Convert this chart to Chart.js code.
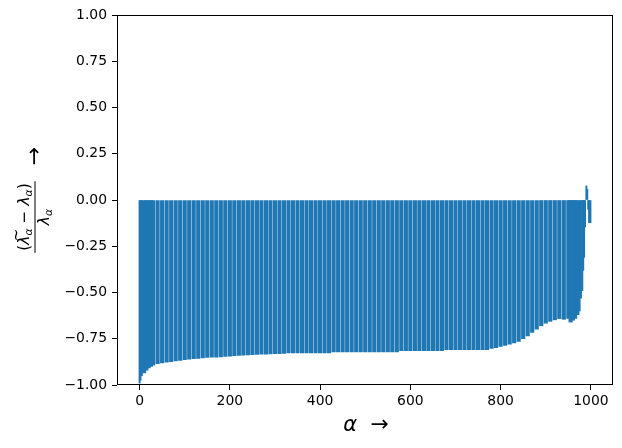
<!DOCTYPE html>
<html>
<head>
<meta charset="utf-8">
<script src="https://cdn.jsdelivr.net/npm/chart.js@4"></script>
<style>
  html, body { margin: 0; padding: 0; background: #fff; }
  #wrap { width: 622px; height: 448px; }
</style>
</head>
<body>
<div id="wrap"><canvas id="chart" width="622" height="448"></canvas></div>
<script>
// alpha index of each bar
const alphaIndex = [
  0, 2, 5, 10, 15, 20, 25, 30, 40, 50, 60, 70, 80, 90,
  100, 110, 120, 130, 140, 150, 160, 170, 180, 190,
  200, 210, 220, 230, 240, 250, 260, 270, 280, 290,
  300, 310, 320, 330, 340, 350, 360, 370, 380, 390,
  400, 410, 420, 430, 440, 450, 460, 470, 480, 490,
  500, 510, 520, 530, 540, 550, 560, 570, 580, 590,
  600, 610, 620, 630, 640, 650, 660, 670, 680, 690,
  700, 710, 720, 730, 740, 750, 760, 770, 780, 790,
  800, 810, 820, 830, 840, 850, 860, 870, 880, 890,
  900, 910, 920, 930, 940, 950, 955, 960, 965, 970,
  975, 978, 981, 983, 985, 987, 990, 992, 994, 996, 999
];
// (lambda~ - lambda) / lambda for each bar
const relChange = [
  -0.990, -0.975, -0.950, -0.935, -0.920, -0.908, -0.900, -0.893, -0.885, -0.880, -0.877, -0.874, -0.870, -0.867,
  -0.863, -0.861, -0.858, -0.856, -0.853, -0.851, -0.850, -0.849, -0.848, -0.846,
  -0.844, -0.842, -0.840, -0.839, -0.837, -0.836, -0.835, -0.834, -0.833, -0.832,
  -0.831, -0.830, -0.829, -0.826, -0.826, -0.826, -0.826, -0.826, -0.826, -0.826,
  -0.826, -0.826, -0.826, -0.821, -0.821, -0.821, -0.821, -0.821, -0.821, -0.821,
  -0.821, -0.821, -0.821, -0.821, -0.821, -0.821, -0.821, -0.821, -0.815, -0.815,
  -0.815, -0.815, -0.815, -0.815, -0.815, -0.815, -0.815, -0.815, -0.809, -0.809,
  -0.809, -0.809, -0.809, -0.809, -0.809, -0.809, -0.809, -0.809, -0.802, -0.798,
  -0.792, -0.786, -0.779, -0.772, -0.764, -0.750, -0.735, -0.716, -0.698, -0.680,
  -0.666, -0.656, -0.648, -0.641, -0.645, -0.640, -0.660, -0.650, -0.640, -0.620,
  -0.600, -0.530, -0.490, -0.380, -0.310, -0.145, 0.076, 0.058, -0.050, -0.123, -0.123
];
const xTicks = [0, 200, 400, 600, 800, 1000];
const yTicks = [-1, -0.75, -0.5, -0.25, 0, 0.25, 0.5, 0.75, 1];

const FONT = '"DejaVu Sans", sans-serif';
const points = alphaIndex.map((a, i) => ({ x: a, y: relChange[i] }));
// the closely spaced bars at both ends are drawn thinner
const isDense = p => p.x < 10 || p.x >= 975;

// draws piece list [text, font, dy, tilde] centred on 0 along current x
function drawRun(ctx, pieces, baseline) {
  let total = 0;
  pieces.forEach(p => { ctx.font = p[1]; p.w = ctx.measureText(p[0]).width; total += p.w; });
  let x = -total / 2;
  pieces.forEach(p => {
    ctx.font = p[1];
    ctx.fillText(p[0], x, baseline + (p[2] || 0));
    if (p[3]) {
      // tilde accent above the glyph
      ctx.fillText('~', x + p.w * 0.35, baseline - 8);
    }
    x += p.w;
  });
  return total;
}

const labelPlugin = {
  id: 'labels',
  afterDraw(chart) {
    const ctx = chart.ctx;
    const a = chart.chartArea;
    ctx.save();
    // frame
    ctx.strokeStyle = '#000';
    ctx.lineWidth = 1;
    ctx.strokeRect(Math.round(a.left) + 0.5, Math.round(a.top) + 0.5,
      Math.round(a.right - a.left) - 1, Math.round(a.bottom - a.top) - 1);

    ctx.fillStyle = '#000';
    ctx.textBaseline = 'alphabetic';
    ctx.textAlign = 'left';

    // x label
    ctx.save();
    ctx.translate(366, 0);
    drawRun(ctx, [
      ['α', 'italic 21px ' + FONT],
      ['  ', '21px ' + FONT],
      ['→', '22px ' + FONT]
    ], 431);
    ctx.restore();

    // y label (rotated fraction + arrow)
    const big = 15.5, small = 10.9;
    ctx.save();
    ctx.translate(35, 217);
    ctx.rotate(-Math.PI / 2);
    const numW = drawRun(ctx, [
      ['(', big + 'px ' + FONT],
      ['λ', 'italic ' + big + 'px ' + FONT, 0, true],
      ['α', 'italic ' + small + 'px ' + FONT, 3],
      [' − ', big + 'px ' + FONT],
      ['λ', 'italic ' + big + 'px ' + FONT],
      ['α', 'italic ' + small + 'px ' + FONT, 3],
      [')', big + 'px ' + FONT]
    ], -6);
    drawRun(ctx, [
      ['λ', 'italic ' + big + 'px ' + FONT],
      ['α', 'italic ' + small + 'px ' + FONT, 3]
    ], 14);
    ctx.fillRect(-numW / 2 - 2, -0.5, numW + 4, 1);
    ctx.translate(61, 0);
    drawRun(ctx, [['→', '22px ' + FONT]], 6);
    ctx.restore();

    ctx.restore();
  }
};

const ctx = document.getElementById('chart').getContext('2d');
const myChart = new Chart(ctx, {
  type: 'bar',
  data: {
    datasets: [{
      data: points.filter(p => !isDense(p)),
      backgroundColor: '#1f77b4',
      borderWidth: 0,
      barThickness: 3.5,
      grouped: false
    }, {
      data: points.filter(isDense),
      backgroundColor: '#1f77b4',
      borderWidth: 0,
      barThickness: 1.3,
      grouped: false
    }]
  },
  options: {
    responsive: false,
    animation: false,
    devicePixelRatio: 1,
    layout: { padding: { left: 0, right: 9, top: 15, bottom: 0 } },
    plugins: { legend: { display: false }, tooltip: { enabled: false } },
    scales: {
      x: {
        type: 'linear',
        offset: false,
        min: -50,
        max: 1049,
        afterBuildTicks: s => { s.ticks = xTicks.map(v => ({ value: v })); },
        afterFit: s => { s.height = 63; },
        grid: { offset: false, drawOnChartArea: false, drawTicks: true, tickLength: 5, tickColor: '#000', color: '#000' },
        border: { display: false },
        ticks: { color: '#000', font: { family: FONT, size: 13.9 }, padding: 3, maxRotation: 0, callback: v => String(v) }
      },
      y: {
        min: -1,
        max: 1,
        afterBuildTicks: s => { s.ticks = yTicks.map(v => ({ value: v })); },
        afterFit: s => { s.width = 117; },
        grid: { drawOnChartArea: false, drawTicks: true, tickLength: 5, tickColor: '#000', color: '#000' },
        border: { display: false },
        ticks: {
          color: '#000',
          font: { family: FONT, size: 13.9 },
          padding: 5,
          callback: v => v.toFixed(2).replace('-', '−')
        }
      }
    }
  },
  plugins: [labelPlugin]
});
</script>
</body>
</html>
